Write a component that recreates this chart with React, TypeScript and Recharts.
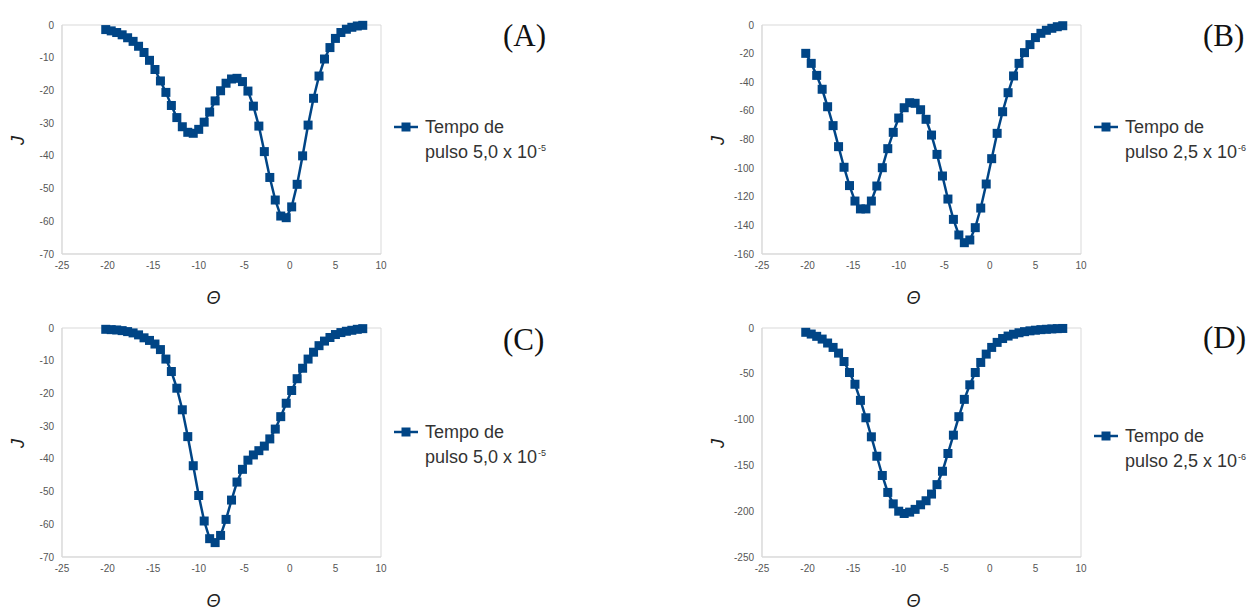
import React from 'react';
import { LineChart, Line, XAxis, YAxis, ReferenceArea } from 'recharts';

// theta values shared by all four curves
const theta = [-20.2, -19.6, -19.0, -18.4, -17.8, -17.2, -16.6, -16.0, -15.4, -14.8, -14.2, -13.6, -13.0, -12.4, -11.8, -11.2, -10.6, -10.0, -9.4, -8.8, -8.2, -7.6, -7.0, -6.4, -5.8, -5.2, -4.6, -4.0, -3.4, -2.8, -2.2, -1.6, -1.0, -0.4, 0.2, 0.8, 1.4, 2.0, 2.6, 3.2, 3.8, 4.4, 5.0, 5.6, 6.2, 6.8, 7.4, 8.0];

const jA = [-1.4, -1.8, -2.3, -3.0, -3.9, -5.0, -6.5, -8.4, -10.8, -13.6, -17.1, -20.6, -24.6, -28.3, -31.1, -32.8, -33.1, -31.9, -29.7, -26.6, -23.2, -20.1, -17.8, -16.5, -16.3, -17.3, -20.2, -24.8, -30.9, -38.7, -46.6, -53.5, -58.4, -58.9, -55.6, -48.7, -40.0, -30.6, -22.4, -15.6, -10.4, -6.9, -4.1, -2.3, -1.3, -0.7, -0.3, -0.1];
const jB = [-19.8, -26.8, -35.2, -44.9, -57.1, -70.3, -85.0, -99.4, -112.2, -123.0, -128.5, -128.5, -123.0, -112.5, -99.7, -86.4, -75.0, -65.0, -57.8, -54.3, -54.7, -59.2, -65.9, -76.9, -90.4, -105.5, -121.6, -135.8, -146.7, -152.1, -150.2, -141.6, -127.9, -111.1, -93.4, -75.7, -60.6, -47.3, -35.6, -26.8, -19.3, -13.7, -8.8, -5.8, -3.7, -2.3, -1.2, -0.5];
const jC = [-0.4, -0.5, -0.6, -0.8, -1.1, -1.5, -2.1, -3.0, -3.8, -4.9, -6.6, -9.5, -13.3, -18.4, -25.0, -33.2, -42.1, -51.2, -59.0, -64.4, -65.6, -63.4, -58.5, -52.6, -47.1, -43.2, -40.4, -38.8, -37.5, -36.1, -33.9, -30.9, -27.1, -23.0, -19.1, -15.5, -12.3, -9.5, -7.4, -5.4, -4.0, -2.9, -2.0, -1.4, -1.0, -0.7, -0.4, -0.2];
const jD = [-4.7, -6.6, -9.1, -12.1, -16.4, -21.2, -27.4, -36.6, -48.6, -61.4, -79.0, -98.0, -118.8, -140.0, -161.0, -179.5, -192.0, -200.0, -202.5, -201.0, -198.0, -193.0, -188.6, -181.3, -171.0, -156.4, -137.0, -117.0, -96.8, -77.9, -62.0, -48.6, -37.6, -28.5, -21.2, -15.7, -11.5, -8.8, -6.8, -5.2, -4.0, -3.1, -2.4, -1.8, -1.4, -1.0, -0.7, -0.5];

const xTicks = [-25, -20, -15, -10, -5, 0, 5, 10];
const yTicksA = [0, -10, -20, -30, -40, -50, -60, -70];
const yTicksB = [0, -20, -40, -60, -80, -100, -120, -140, -160];
const yTicksC = [0, -10, -20, -30, -40, -50, -60, -70];
const yTicksD = [0, -50, -100, -150, -200, -250];

const legendA = '5,0 x 10';
const legendB = '2,5 x 10';
const expA = '-5';
const expB = '-6';

const BLUE = '#004586';
const BORDER = '#d9d9d9';
const TICK = { fontSize: 10, fill: '#555', fontFamily: 'Liberation Sans, Arial' };

const squareDot = (p: any) => (
  <rect key={`d${p.index}`} x={p.cx - 4.5} y={p.cy - 4.5} width={9} height={9} fill={BLUE} />
);

function Panel({ left, top, height, bottom, values, yTicks, letter, letterTop, legendTop, pulse, exp }: any) {
  const data = theta.map((t, i) => ({ t, j: values[i] }));
  const yMin = yTicks[yTicks.length - 1];
  return (
    <>
      <div style={{ position: 'absolute', left, top }}>
        <LineChart width={400} height={height} data={data} margin={{ top: 25, right: 19, bottom, left: 12 }}>
          <ReferenceArea x1={-25} x2={10} y1={yMin} y2={0} fill="none" stroke={BORDER} />
          <XAxis
            dataKey="t"
            type="number"
            domain={[-25, 10]}
            ticks={xTicks}
            interval={0}
            height={30}
            tickLine={false}
            axisLine={{ stroke: BORDER }}
            tick={TICK}
            label={{ value: 'Θ', position: 'bottom', offset: 7, dx: -8, style: { fontSize: 18, fontStyle: 'italic', fill: '#222', fontFamily: 'Liberation Sans, Arial' } }}
          />
          <YAxis
            type="number"
            domain={[yMin, 0]}
            ticks={yTicks}
            interval={0}
            width={50}
            tickLine={false}
            axisLine={{ stroke: BORDER }}
            tick={TICK}
            label={(p: any) => {
              const vb = p.viewBox;
              const x = vb.x + 6;
              const y = vb.y + vb.height / 2 + 1;
              return (
                <text x={x} y={y} transform={`rotate(-90 ${x} ${y})`} textAnchor="middle" dominantBaseline="central"
                  style={{ fontSize: 18, fontStyle: 'italic', fill: '#222', fontFamily: 'Liberation Sans, Arial' }}>J</text>
              );
            }}
          />
          <Line type="linear" dataKey="j" stroke={BLUE} strokeWidth={2.5} dot={squareDot} isAnimationActive={false} />
        </LineChart>
      </div>
      <div style={{ position: 'absolute', left: left + 503, top: letterTop, fontFamily: 'Liberation Serif, Times New Roman, serif', fontSize: 31, lineHeight: '31px', color: '#111' }}>
        {letter}
      </div>
      <svg style={{ position: 'absolute', left: left + 394, top: legendTop - 5 }} width={24} height={10}>
        <line x1={0} y1={5} x2={24} y2={5} stroke={BLUE} strokeWidth={2.5} />
        <rect x={7.5} y={0.5} width={9} height={9} fill={BLUE} />
      </svg>
      <div style={{ position: 'absolute', left: left + 425, top: legendTop - 12.5, fontFamily: 'Liberation Sans, Arial', fontSize: 18, lineHeight: '25px', color: '#333', whiteSpace: 'nowrap' }}>
        <div>Tempo de</div>
        <div>
          pulso {pulse}
          <sup style={{ fontSize: 9, verticalAlign: 'top', position: 'relative', top: -4, marginLeft: 1 }}>{exp}</sup>
        </div>
      </div>
    </>
  );
}

export default function App() {
  return (
    <div style={{ position: 'absolute', left: 0, top: 0, width: 1250, height: 610, background: '#fff', fontFamily: 'Liberation Sans, Arial' }}>
      <Panel left={0} top={0} height={310} bottom={26} values={jA} yTicks={yTicksA} letter="(A)" letterTop={20} legendTop={127} pulse={legendA} exp={expA} />
      <Panel left={700} top={0} height={310} bottom={26} values={jB} yTicks={yTicksB} letter="(B)" letterTop={20} legendTop={127} pulse={legendB} exp={expB} />
      <Panel left={0} top={303} height={307} bottom={23} values={jC} yTicks={yTicksC} letter="(C)" letterTop={324} legendTop={432} pulse={legendA} exp={expA} />
      <Panel left={700} top={303} height={307} bottom={23} values={jD} yTicks={yTicksD} letter="(D)" letterTop={322} legendTop={436} pulse={legendB} exp={expB} />
    </div>
  );
}
